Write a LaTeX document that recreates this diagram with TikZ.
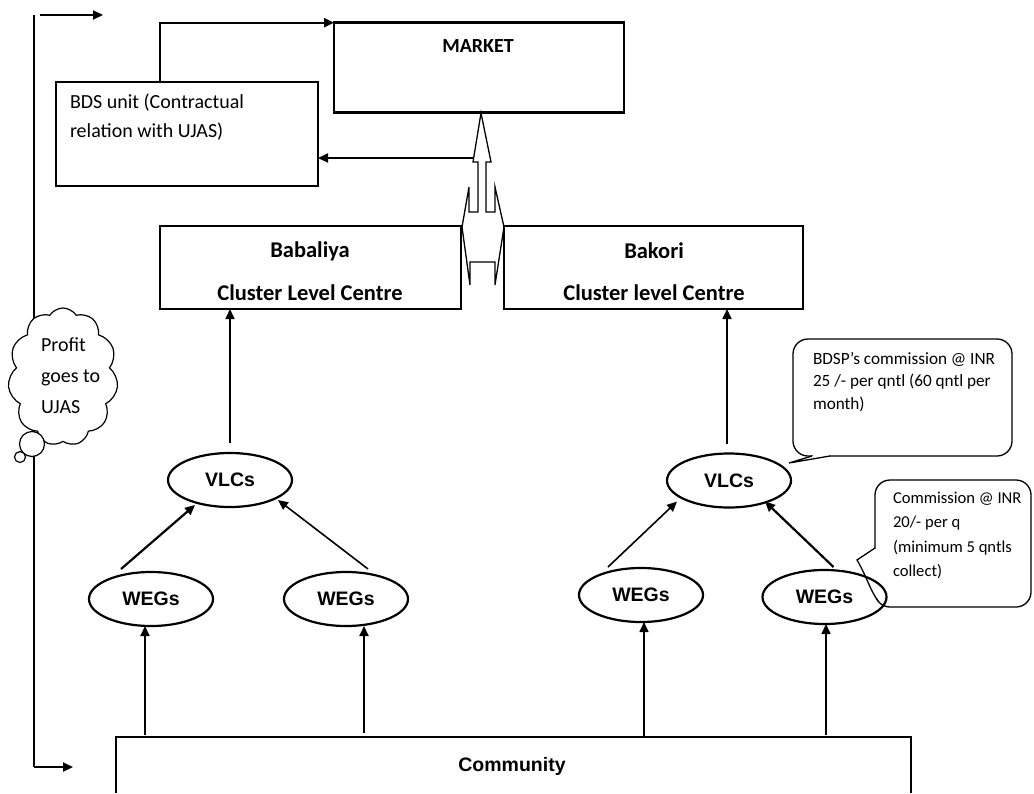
\documentclass[tikz,border=0pt]{standalone}
\usepackage{fontspec}
\setmainfont{Carlito}
\newfontfamily\arialf{Liberation Sans}
\usetikzlibrary{arrows.meta,shapes.geometric,shapes.symbols}
\begin{document}
\begin{tikzpicture}[x=1pt,y=-1pt,
  every node/.style={inner sep=0pt,outer sep=0pt},
  box/.style={draw,line width=1.3pt},
  oval/.style={draw,ellipse,line width=2.2pt,minimum width=124pt,minimum height=54pt,font=\arialf\bfseries\fontsize{19.5}{22}\selectfont},
  arr/.style={line width=2.2pt,-{Triangle[length=10pt,width=9pt]}},
  tarr/.style={line width=1.6pt,-{Triangle[length=10pt,width=9pt]}},
  cal/.style={font=\fontsize{20}{29}\selectfont,align=left},
  calb/.style={font=\bfseries\fontsize{22.5}{26}\selectfont},
  small/.style={font=\fontsize{17.2}{22.5}\selectfont,align=left},
  callout/.style={draw,fill=white,line width=1.3pt,rounded corners=15pt},
]
\useasboundingbox (0,0) rectangle (1034,793);

% feedback loop on the left
\coordinate (lt) at (34,15);
\coordinate (lb) at (34,767);
\coordinate (ta1) at (40,15);
\coordinate (ta2) at (103,15);
\coordinate (ba) at (73,767);
\draw[line width=2pt] (lt) -- (lb);
\draw[arr] (ta1) -- (ta2);
\draw[arr] (lb) -- (ba);

% cloud
\node[cloud,draw,fill=white,line width=1.2pt,cloud puffs=11,cloud puff arc=115,cloud ignores aspect,minimum width=110pt,minimum height=138pt] (cloud) at (63,377) {};
\node[circle,draw,fill=white,line width=1.2pt,minimum size=25pt] (bub1) at (32,444) {};
\node[circle,draw,fill=white,line width=1.2pt,minimum size=11pt] (bub2) at (20,457) {};
\node[cal,anchor=west,font=\fontsize{20}{31}\selectfont] (cloudtxt) at (41,376) {Profit\\goes to\\UJAS};

% market and BDS
\node[draw,line width=2.8pt,minimum width=290pt,minimum height=90pt,anchor=north west] (market) at (334,22.7) {};
\node[font=\bfseries\fontsize{20}{24}\selectfont] (markettxt) at (478,46) {MARKET};
\node[box,minimum width=262pt,minimum height=104pt,anchor=north west] (bds) at (56,82) {};
\node[cal,anchor=west] (bdstxt) at (70,117.5) {BDS unit (Contractual\\relation with UJAS)};
\coordinate (bdsup) at (160,82);
\draw[arr] (bdsup) |- (market.north west);

% block arrow
\draw[line width=1.3pt,fill=white] (481,113) -- (491,162) -- (486,162) -- (486,212) -- (495,212) -- (495,187) -- (504,227) -- (495,285) -- (495,262) -- (470,262) -- (470,285) -- (462,227) -- (469,187) -- (469,212) -- (478,212) -- (478,162) -- (473,162) -- cycle;
\coordinate (ua) at (473,158);
\draw[arr] (ua) -- (ua -| bds.east);

% cluster boxes
\node[box,minimum width=301pt,minimum height=83pt,anchor=north west] (B1) at (160,226) {};
\node[box,minimum width=299pt,minimum height=83pt,anchor=north west] (B2) at (504,226) {};
\node[calb] (b1a) at (310,251) {Babaliya};
\node[calb] (b1b) at (310,293) {Cluster Level Centre};
\node[calb] (b2a) at (654,251) {Bakori};
\node[calb] (b2b) at (654,293) {Cluster level Centre};

% callouts
\node[callout,minimum width=219pt,minimum height=117pt,anchor=north west] (co1) at (793,339) {};
\fill[white] (812,456) -- (789,463) -- (830,456) -- cycle;
\draw[white,line width=2.5pt] (813,456) -- (829,456);
\draw[line width=1.3pt] (812,456) -- (789,463) -- (830,456);
\node[small,anchor=north west] (co1txt) at (813,352) {BDSP’s commission @ INR\\25 /- per qntl (60 qntl per\\month)};

\node[callout,minimum width=156pt,minimum height=127pt,anchor=north west] (co2) at (875,480) {};
\fill[white] (875,548) -- (857,560) -- (877,600) -- cycle;
\draw[white,line width=2.5pt] (875,549) -- (875,599);
\draw[line width=1.3pt] (875,548) -- (857,560) .. controls (866,575) and (870,590) .. (878,601);
\node[small,anchor=north west,font=\fontsize{16.6}{24.5}\selectfont] (co2txt) at (893,492) {Commission @ INR\\20/- per q\\(minimum 5 qntls\\collect)};

% ovals
\node[oval] (V1) at (230,480) {VLCs};
\node[oval] (V2) at (729,480.5) {VLCs};
\node[oval] (W1) at (151,599) {WEGs};
\node[oval] (W2) at (346,599) {WEGs};
\node[oval] (W3) at (641,595) {WEGs};
\node[oval] (W4) at (824.5,597) {WEGs};

% VLC -> cluster
\draw[tarr] ([yshift=10pt]V1.north) -- (V1.north |- B1.south);
\draw[tarr] ([xshift=-2pt,yshift=10pt]V2.north) -- ([xshift=-2pt]V2.north |- B2.south);

% WEG -> VLC
\draw[arr] ([xshift=-30pt,yshift=3pt]W1.north) -- ([xshift=-35pt,yshift=2pt]V1.south);
\draw[tarr] ([xshift=22pt,yshift=3pt]W2.north) -- ([xshift=48pt,yshift=7pt]V1.south);
\draw[tarr] ([xshift=-33pt,yshift=1pt]W3.north) -- ([xshift=-52pt,yshift=6pt]V2.south);
\draw[arr] ([xshift=9pt,yshift=3pt]W4.north) -- ([xshift=36pt,yshift=6pt]V2.south);

% community
\draw[line width=1.3pt] (116,793) -- (116,737) -- (911,737) -- (911,793);
\node[font=\arialf\bfseries\fontsize{19.5}{22}\selectfont] (comm) at (512,766) {Community};
\coordinate (c1) at (145,735);
\coordinate (c2) at (364,733);
\coordinate (c3) at (644,737);
\coordinate (c4) at (826,735);
\draw[arr] (c1) -- (c1 |- W1.south);
\draw[arr] (c2) -- (c2 |- W2.south);
\draw[tarr] (c3) -- (c3 |- W3.south);
\draw[tarr] (c4) -- (c4 |- W4.south);
\end{tikzpicture}
\end{document}
